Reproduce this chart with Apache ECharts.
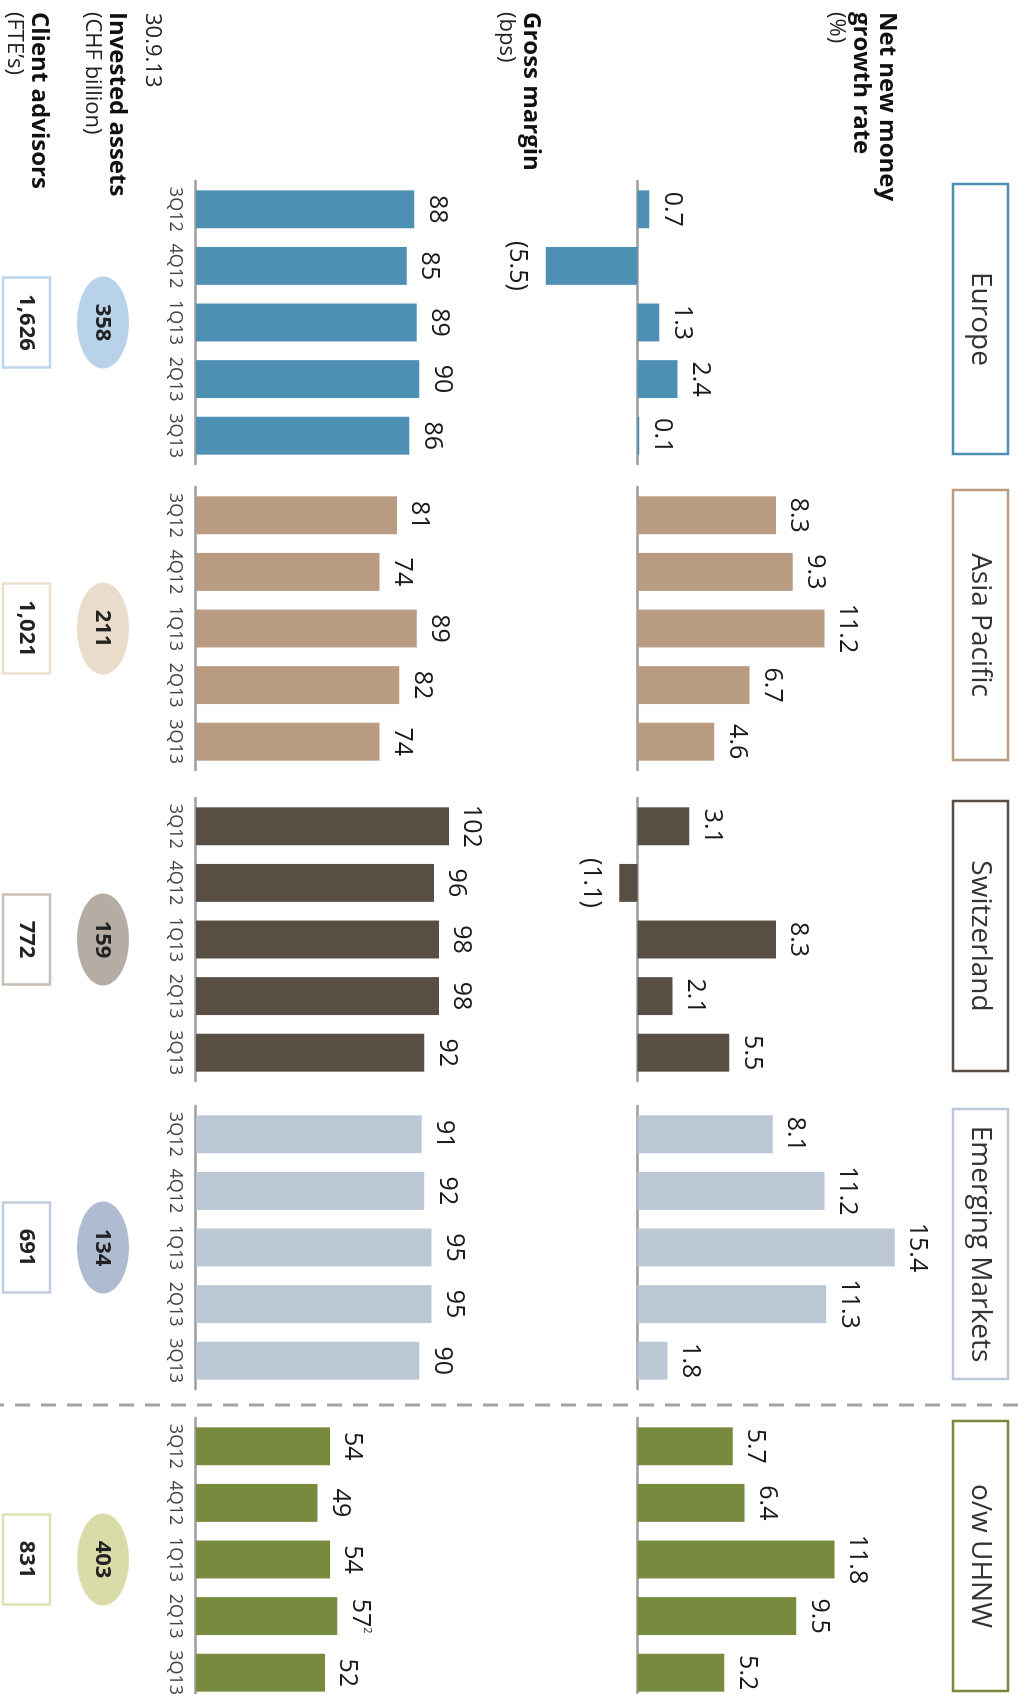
<!DOCTYPE html>
<html>
<head>
<meta charset="utf-8">
<script src="https://cdn.jsdelivr.net/npm/echarts@6/dist/echarts.min.js"></script>
<style>
html,body{margin:0;padding:0;overflow:hidden;background:#fff;width:1018px;height:1694px;}
#chart{position:absolute;left:0;top:0;width:1694px;height:1018px;transform-origin:0 0;transform:translateX(1018px) rotate(90deg);}
</style>
</head>
<body>
<div id="chart"></div>
<script>
// ---------------- data ----------------
const regions = ['Europe', 'Asia Pacific', 'Switzerland', 'Emerging Markets', 'o/w UHNW'];
const quarters = ['3Q12', '4Q12', '1Q13', '2Q13', '3Q13'];

const nnmEurope = [0.7, -5.5, 1.3, 2.4, 0.1];
const nnmAsia   = [8.3, 9.3, 11.2, 6.7, 4.6];
const nnmSwiss  = [3.1, -1.1, 8.3, 2.1, 5.5];
const nnmEM     = [8.1, 11.2, 15.4, 11.3, 1.8];
const nnmUHNW   = [5.7, 6.4, 11.8, 9.5, 5.2];

const gmEurope = [88, 85, 89, 90, 86];
const gmAsia   = [81, 74, 89, 82, 74];
const gmSwiss  = [102, 96, 98, 98, 92];
const gmEM     = [91, 92, 95, 95, 90];
const gmUHNW   = [54, 49, 54, 57, 52];
const gmUHNWNotes = ['', '', '', '2', ''];

const investedAssets = [358, 211, 159, 134, 403];
const clientAdvisors = [1626, 1021, 772, 691, 831];

const rowLabels = {
  nnm: ['Net new money', 'growth rate', '(%)'],
  gm: ['Gross margin', '(bps)'],
  date: '30.9.13',
  assets: ['Invested assets', '(CHF billion)'],
  advisors: ['Client advisors', '(FTE\u2019s)']
};

// ---------------- styles / layout ----------------
const FONT = '"Open Sans", "Noto Sans", sans-serif';
const barColors     = ['#4d90b4', '#b89b80', '#584e44', '#bcc7d6', '#788a3e'];
const titleStrokes  = ['#4d90b4', '#b89b80', '#584e44', '#bcc7d9', '#788a3e'];
const ellipseColors = ['#b8d2ea', '#e9dccb', '#b5aca3', '#aebbd0', '#d9dca8'];
const advisorStroke = ['#bcd4ec', '#ecdfcc', '#c8bfb6', '#c3cde0', '#dde3b0'];

const groupStarts = [181, 487, 798, 1106, 1418];
const groupWidth = 283;
const nnmZero = 380.5, nnmPx = 16.7, nnmMin = -6, nnmMax = 16;
const gmZero = 822, gmPx = 2.48, gmMax = 120;

const nnmAll = [nnmEurope, nnmAsia, nnmSwiss, nnmEM, nnmUHNW];
const gmAll = [gmEurope, gmAsia, gmSwiss, gmEM, gmUHNW];
const gmNotes = [null, null, null, null, gmUHNWNotes];

const grids = [], xAxes = [], yAxes = [], series = [], graphics = [];

function fmtNNM(v) {
  return v < 0 ? '(' + Math.abs(v).toFixed(1) + ')' : v.toFixed(1);
}

regions.forEach((name, i) => {
  const left = groupStarts[i];
  grids.push({left: left, width: groupWidth, top: nnmZero - nnmMax * nnmPx,
              height: (nnmMax - nnmMin) * nnmPx, outerBoundsMode: 'none', containLabel: false});
  grids.push({left: left, width: groupWidth, top: gmZero - gmMax * gmPx,
              height: gmMax * gmPx, outerBoundsMode: 'none', containLabel: false});

  [0, 1].forEach(k => {
    const gi = i * 2 + k;
    xAxes.push({
      type: 'category', gridIndex: gi, data: quarters, boundaryGap: true,
      axisLine: {show: true, onZero: true, lineStyle: {color: '#9d9d9d', width: 2.5}},
      axisTick: {show: false},
      axisLabel: {show: k === 1, fontSize: 18, color: '#444', margin: 12, fontFamily: FONT, interval: 0},
      splitLine: {show: false}
    });
    yAxes.push({
      type: 'value', gridIndex: gi, show: false,
      min: k === 0 ? nnmMin : 0, max: k === 0 ? nnmMax : gmMax,
      splitLine: {show: false}
    });
  });

  series.push({
    type: 'bar', xAxisIndex: i * 2, yAxisIndex: i * 2,
    barCategoryGap: '33%',
    itemStyle: {color: barColors[i]},
    label: {show: true, distance: 10, fontSize: 25, color: '#1a1a1a', fontFamily: FONT,
            formatter: p => fmtNNM(p.value)},
    data: nnmAll[i].map(v => ({value: v, label: {position: v < 0 ? 'bottom' : 'top', distance: v < 0 ? 16 : 10}})),
    silent: true
  });
  const notes = gmNotes[i];
  series.push({
    type: 'bar', xAxisIndex: i * 2 + 1, yAxisIndex: i * 2 + 1,
    barCategoryGap: '33%',
    itemStyle: {color: barColors[i]},
    label: {show: true, position: 'top', distance: 10, fontSize: 25, color: '#1a1a1a', fontFamily: FONT,
            formatter: p => (notes && notes[p.dataIndex]) ? '{v|' + p.value + '}{s|' + notes[p.dataIndex] + '}' : '{v|' + p.value + '}',
            rich: {
              v: {fontSize: 25, color: '#1a1a1a', fontFamily: FONT},
              s: {fontSize: 11, color: '#1a1a1a', fontFamily: FONT, verticalAlign: 'top'}
            }},
    data: gmAll[i],
    silent: true
  });

  const cx = left + groupWidth / 2;
  graphics.push({type: 'rect', shape: {x: left + 3, y: 10, width: 270, height: 55},
                 style: {fill: '#fff', stroke: titleStrokes[i], lineWidth: 2.5}, z: 10});
  graphics.push({type: 'text', x: left + 3 + 135, y: 38,
                 style: {text: name, fontSize: 28, fill: '#333', fontFamily: FONT,
                         textAlign: 'center', textVerticalAlign: 'middle'}, z: 11});
  graphics.push({type: 'ellipse', shape: {cx: cx, cy: 915, rx: 46, ry: 26},
                 style: {fill: ellipseColors[i]}, z: 10});
  graphics.push({type: 'text', x: cx, y: 916,
                 style: {text: String(investedAssets[i]), fontSize: 22, fontWeight: 'bold', fill: '#222',
                         fontFamily: FONT, textAlign: 'center', textVerticalAlign: 'middle'}, z: 11});
  graphics.push({type: 'rect', shape: {x: cx - 45, y: 968, width: 90, height: 47},
                 style: {fill: '#fff', stroke: advisorStroke[i], lineWidth: 2.5}, z: 10});
  graphics.push({type: 'text', x: cx, y: 992,
                 style: {text: clientAdvisors[i].toLocaleString('en-US'), fontSize: 22, fontWeight: 'bold',
                         fill: '#222', fontFamily: FONT, textAlign: 'center', textVerticalAlign: 'middle'}, z: 11});
});

graphics.push({type: 'line', shape: {x1: 1405, y1: 0, x2: 1405, y2: 1018},
               style: {stroke: '#a3a3a3', lineWidth: 3, lineDash: [15, 11]}, z: 5});

const richLbl = {
  b: {fontSize: 24, fontWeight: 'bold', fill: '#111', fontFamily: FONT, lineHeight: 26},
  r: {fontSize: 22, fill: '#222', fontFamily: FONT, lineHeight: 24}
};
function rowText(y, lines) {
  const txt = lines.map((l, j) => (j === lines.length - 1 && l.startsWith('(') ? '{r|' : '{b|') + l + '}').join('\n');
  graphics.push({type: 'text', x: 12, y: y, style: {text: txt, rich: richLbl, textVerticalAlign: 'top'}, z: 11});
}
rowText(118, rowLabels.nnm);
rowText(474, rowLabels.gm);
graphics.push({type: 'text', x: 13, y: 855,
               style: {text: rowLabels.date, fontSize: 22, fill: '#222', fontFamily: FONT, textVerticalAlign: 'top'}, z: 11});
rowText(888, rowLabels.assets);
rowText(966, rowLabels.advisors);

const chart = echarts.init(document.getElementById('chart'), null, {renderer: 'canvas'});
chart.setOption({
  animation: false,
  backgroundColor: '#fff',
  grid: grids,
  xAxis: xAxes,
  yAxis: yAxes,
  series: series,
  graphic: {elements: graphics}
});
</script>
</body>
</html>
